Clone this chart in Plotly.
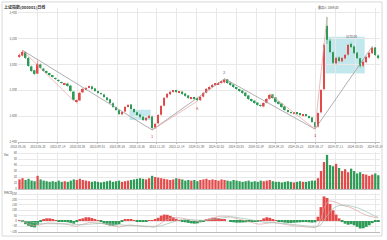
import plotly.graph_objects as go

# ---------------- data ----------------
open_ = [3060,3070,3095,3050,2985,2955,2930,3000,2968,2945,2930,2912,2895,2880,2862,2845,2852,2836,2790,2712,
         2722,2785,2808,2822,2830,2815,2790,2775,2768,2745,2730,2700,2668,2645,2615,2636,2675,2690,2655,2630,
         2612,2596,2568,2590,2598,2512,2545,2612,2682,2745,2770,2790,2798,2784,2790,2775,2760,2738,2745,2736,
         2724,2752,2783,2808,2828,2845,2848,2860,2862,2884,2860,2845,2822,2808,2798,2782,2760,2730,2720,2705,
         2684,2676,2705,2735,2768,2744,2712,2698,2675,2645,2630,2620,2628,2620,2605,2612,2600,2590,2552,2520,
         2630,2810,3300,3185,3095,3010,3055,3025,3048,3078,3160,3140,3092,3048,2992,3018,3055,3088,3132,3070]
high = [3085,3110,3100,3058,2992,2960,3030,3008,2975,2952,2936,2918,2900,2886,2868,2858,2860,2842,2795,2728,
        2788,2820,2826,2835,2836,2820,2796,2782,2772,2750,2735,2706,2675,2650,2640,2678,2695,2694,2660,2636,
        2618,2600,2592,2610,2604,2548,2615,2686,2748,2780,2795,2802,2804,2795,2796,2780,2764,2748,2750,2740,
        2755,2786,2818,2832,2848,2856,2864,2872,2890,2888,2865,2848,2826,2812,2802,2786,2764,2735,2724,2708,
        2690,2708,2740,2772,2772,2748,2716,2702,2678,2650,2634,2630,2632,2624,2614,2616,2604,2594,2556,2630,
        2810,3165,3369,3200,3100,3060,3062,3058,3082,3160,3170,3145,3095,3052,3028,3066,3097,3140,3136,3078]
low = [3052,3064,3045,2982,2944,2920,2925,2968,2944,2928,2912,2898,2880,2866,2850,2840,2828,2788,2718,2700,
       2716,2778,2802,2816,2804,2788,2774,2764,2742,2718,2695,2664,2640,2608,2608,2630,2668,2650,2626,2602,
       2586,2563,2560,2582,2493,2500,2538,2604,2676,2738,2764,2782,2780,2778,2765,2750,2734,2730,2726,2716,
       2718,2745,2776,2802,2820,2838,2842,2852,2855,2850,2835,2818,2804,2788,2772,2750,2725,2710,2694,2680,
       2670,2668,2698,2728,2734,2702,2688,2664,2640,2626,2618,2614,2610,2602,2598,2596,2580,2548,2500,2512,
       2622,2800,3160,3090,3002,3000,3018,3018,3040,3070,3128,3080,3042,2975,2980,3010,3048,3082,3066,3040]
close = [3074,3098,3051,2989,2950,2927,3005,2974,2950,2935,2919,2904,2888,2873,2857,2850,2834,2795,2726,2718,
         2780,2811,2819,2826,2811,2795,2780,2772,2749,2726,2702,2671,2648,2617,2633,2671,2687,2656,2633,2609,
         2594,2571,2586,2602,2509,2540,2609,2679,2741,2772,2788,2795,2788,2788,2772,2757,2741,2741,2733,2726,
         2749,2780,2811,2826,2842,2850,2857,2865,2881,2857,2842,2826,2811,2795,2780,2757,2733,2718,2702,2687,
         2679,2702,2733,2764,2741,2710,2695,2671,2648,2633,2625,2625,2617,2609,2609,2602,2586,2555,2516,2625,
         2803,3152,3191,3098,3013,3051,3028,3051,3074,3152,3136,3090,3051,2989,3020,3059,3090,3129,3074,3051]
volume = [16,18,15,17,14,13,22,16,14,13,12,13,12,14,12,13,12,14,16,15,
          17,15,14,13,12,13,12,11,12,13,14,12,13,14,12,13,14,15,16,17,
          18,17,16,18,22,20,19,18,17,16,15,16,18,17,16,14,15,14,15,13,
          15,16,17,15,16,15,14,16,15,14,13,15,14,13,12,13,14,12,13,12,
          14,13,14,15,13,12,12,11,12,13,12,11,12,13,12,12,13,14,14,18,
          30,45,57,40,38,42,35,30,33,28,34,30,26,28,25,24,22,24,26,23]
macd_hist = [5,-10,-30,-45,-55,-60,-35,-10,15,25,25,18,8,-3,-6,-8,-12,-18,-25,-10,
             10,25,35,35,28,18,5,-10,-25,-35,-42,-45,-40,-30,-5,12,18,12,2,-5,
             -8,-10,-6,3,8,12,30,50,60,58,48,35,20,8,-5,-12,-18,-22,-25,-22,
             -12,-2,10,22,30,30,25,18,10,0,-8,-12,-15,-15,-14,-12,-10,-8,-6,-2,
             8,25,35,30,15,2,-5,-10,-15,-18,-18,-16,-14,-12,-10,-10,-12,-15,-12,40,
             130,230,215,160,100,60,25,-10,-25,-35,-30,-40,-55,-70,-68,-55,-40,-20,-8,-3]
dif = [10,0,-15,-28,-38,-45,-40,-32,-25,-20,-18,-18,-20,-22,-25,-28,-32,-38,-48,-50,
       -38,-28,-20,-15,-14,-15,-18,-22,-28,-34,-40,-46,-52,-56,-52,-44,-38,-38,-42,-46,
       -50,-55,-55,-52,-58,-55,-40,-20,0,15,25,30,32,30,26,20,14,8,3,-2,
       -2,5,14,24,32,38,42,45,48,44,38,32,25,18,10,2,-6,-14,-22,-28,
       -30,-26,-18,-12,-12,-16,-22,-28,-34,-40,-44,-46,-48,-50,-50,-50,-52,-56,-62,-45,
       20,120,175,190,185,175,162,150,140,135,125,112,98,80,65,55,45,38,32,28]
dea = [5,4,0,-5,-11,-17,-22,-24,-25,-25,-24,-23,-23,-23,-23,-24,-25,-28,-32,-35,
       -36,-35,-32,-29,-26,-24,-22,-22,-23,-25,-28,-31,-35,-39,-42,-43,-42,-41,-41,-42,
       -44,-46,-48,-49,-51,-52,-50,-44,-35,-24,-12,-3,5,10,13,14,14,13,11,9,
       6,6,8,12,17,23,28,33,37,39,39,38,35,31,27,22,16,10,4,-3,
       -9,-13,-15,-16,-16,-17,-18,-21,-24,-28,-32,-36,-39,-42,-44,-46,-48,-50,-52,-50,
       -35,10,55,90,115,135,145,150,148,145,140,133,125,115,100,85,70,55,45,35]
date_labels = ["2023-05-26","2023-06-20","2023-07-14","2023-08-08","2023-09-01","2023-09-26",
               "2023-10-26","2023-11-20","2023-12-14","2024-01-09","2024-02-02","2024-03-05",
               "2024-03-29","2024-04-25","2024-05-22","2024-06-17","2024-07-11","2024-08-05",
               "2024-08-29"]
price_ticks = [2400, 2600, 2800, 3000, 3200, 3400]
price_tick_labels = ["2,400", "2,600", "2,800", "3,000", "3,200", "3,400"]
zig_idx = [1, 44, 68, 98, 117]
zig_val = [3110, 2493, 2890, 2500, 3140]
sub_segments = [((1, 3110), (18, 2718)), ((44, 2493), (59, 2716)), ((83, 2772), (98, 2500)),
                ((98, 2500), (102, 3369))]

idx = list(range(len(close)))
RED = "#e34a4a"
GREEN = "#2e9b57"
is_up = [c >= o for o, c in zip(open_, close)]
vol_colors = [RED if u else GREEN for u in is_up]
hist_colors = [RED if h >= 0 else GREEN for h in macd_hist]

fig = go.Figure()

# shaded boxes
fig.add_shape(type="rect", xref="x", yref="y", x0=36.5, x1=43.5, y0=2570, y1=2650,
              fillcolor="rgba(120,205,215,0.45)", line_width=0, layer="below")
fig.add_shape(type="rect", xref="x", yref="y", x0=101.5, x1=114.5, y0=2930, y1=3215,
              fillcolor="rgba(120,205,215,0.45)", line_width=0, layer="below")

# candle wicks
for up, col in ((True, RED), (False, GREEN)):
    wx, wy = [], []
    for i in idx:
        if is_up[i] == up:
            wx += [i, i, None]
            wy += [low[i], high[i], None]
    fig.add_trace(go.Scatter(x=wx, y=wy, mode="lines", line=dict(color=col, width=0.6),
                             xaxis="x", yaxis="y", hoverinfo="skip"))
# candle bodies
body_base = [min(o, c) for o, c in zip(open_, close)]
body_len = [max(abs(c - o), 3) for o, c in zip(open_, close)]
fig.add_trace(go.Bar(x=idx, y=body_len, base=body_base, width=0.55,
                     marker=dict(color=vol_colors, line_width=0), xaxis="x", yaxis="y"))

fig.add_trace(go.Scatter(x=zig_idx, y=zig_val, mode="lines",
                         line=dict(color="#9a9a9a", width=0.8), xaxis="x", yaxis="y"))
for (a, b) in sub_segments:
    fig.add_trace(go.Scatter(x=[a[0], b[0]], y=[a[1], b[1]], mode="lines",
                             line=dict(color="#e6a0a0", width=0.7), xaxis="x", yaxis="y"))

# volume
fig.add_trace(go.Bar(x=idx, y=volume, width=0.75, marker=dict(color=vol_colors, line_width=0),
                     xaxis="x2", yaxis="y2"))
# macd
fig.add_trace(go.Bar(x=idx, y=macd_hist, width=0.95, marker=dict(color=hist_colors, line_width=0),
                     xaxis="x3", yaxis="y3"))
fig.add_trace(go.Scatter(x=idx, y=dif, mode="lines", line=dict(color="#d9a3a3", width=0.7),
                         xaxis="x3", yaxis="y3"))
fig.add_trace(go.Scatter(x=idx, y=dea, mode="lines", line=dict(color="#9fc0b0", width=0.7),
                         xaxis="x3", yaxis="y3"))

xr = [-0.5, 119.57]
tickvals = [-0.5 + 6.58 * k for k in range(len(date_labels))]
gridc = "#e8e8e8"
tickfont = dict(size=3, color="#666")
common_x = dict(range=xr, tickvals=tickvals, showgrid=True, gridcolor=gridc, gridwidth=0.6,
                zeroline=False, showline=True, linecolor="#bbb", linewidth=0.6)

fig.update_layout(
    width=387, height=240, margin=dict(l=18, r=4, t=8, b=8),
    paper_bgcolor="white", plot_bgcolor="white", showlegend=False,
    font=dict(family="Noto Sans CJK SC, Noto Sans, sans-serif", size=3, color="#555"),
    xaxis=dict(**common_x, anchor="y", ticktext=date_labels, tickfont=tickfont,
               ticks="outside", ticklen=1.5, tickcolor="#bbb"),
    xaxis2=dict(**common_x, anchor="y2", matches="x", showticklabels=False),
    xaxis3=dict(**common_x, anchor="y3", matches="x", showticklabels=False),
    yaxis=dict(domain=[0.402, 1], range=[2400, 3438], tickvals=price_ticks, ticktext=price_tick_labels,
               tickfont=tickfont, showgrid=True, gridcolor=gridc, gridwidth=0.6, zeroline=False,
               ticklen=0),
    yaxis2=dict(domain=[0.192, 0.357], range=[0, 61.7], dtick=10, tickfont=tickfont,
                showgrid=True, gridcolor=gridc, gridwidth=0.6, zeroline=False),
    yaxis3=dict(domain=[0, 0.174], range=[-103, 262], dtick=50, tickfont=tickfont,
                showgrid=True, gridcolor=gridc, gridwidth=0.6, zeroline=False),
)

# frame
fig.add_shape(type="rect", xref="paper", yref="paper", x0=-0.044, x1=1.0055, y0=-0.018, y1=1.027,
              line=dict(color="#cfcfcf", width=0.8), fillcolor="rgba(0,0,0,0)")

ann = [
    dict(text="<b>上证指数(000001)日线</b>", xref="paper", yref="paper", x=-0.044, y=1.006,
         xanchor="left", yanchor="middle", font=dict(size=4, color="#333")),
    dict(text="最高价 3369.00", xref="paper", yref="paper", x=0.858, y=1.004,
         xanchor="center", yanchor="middle", font=dict(size=3, color="#555")),
    dict(text="3170.00", xref="x", yref="y", x=110, y=3185, xanchor="center", yanchor="bottom",
         font=dict(size=3, color="#555")),
    dict(text="1", xref="x", yref="y", x=44, y=2485, yanchor="top", font=dict(size=4, color="#c33")),
    dict(text="2", xref="x", yref="y", x=68, y=2900, yanchor="bottom", font=dict(size=4, color="#555")),
    dict(text="A", xref="x", yref="y", x=59, y=2705, yanchor="top", font=dict(size=4, color="#c33")),
    dict(text="3", xref="x", yref="y", x=98, y=2492, yanchor="top", font=dict(size=4, color="#c33")),
    dict(text="Vol", xref="paper", yref="paper", x=-0.044, y=0.344, xanchor="left",
         font=dict(size=3, color="#333")),
    dict(text="MACD", xref="paper", yref="paper", x=-0.044, y=0.156, xanchor="left",
         font=dict(size=3, color="#333")),
]
for a in ann:
    a.setdefault("showarrow", False)
    fig.add_annotation(**a)

fig.write_html("out.html")
